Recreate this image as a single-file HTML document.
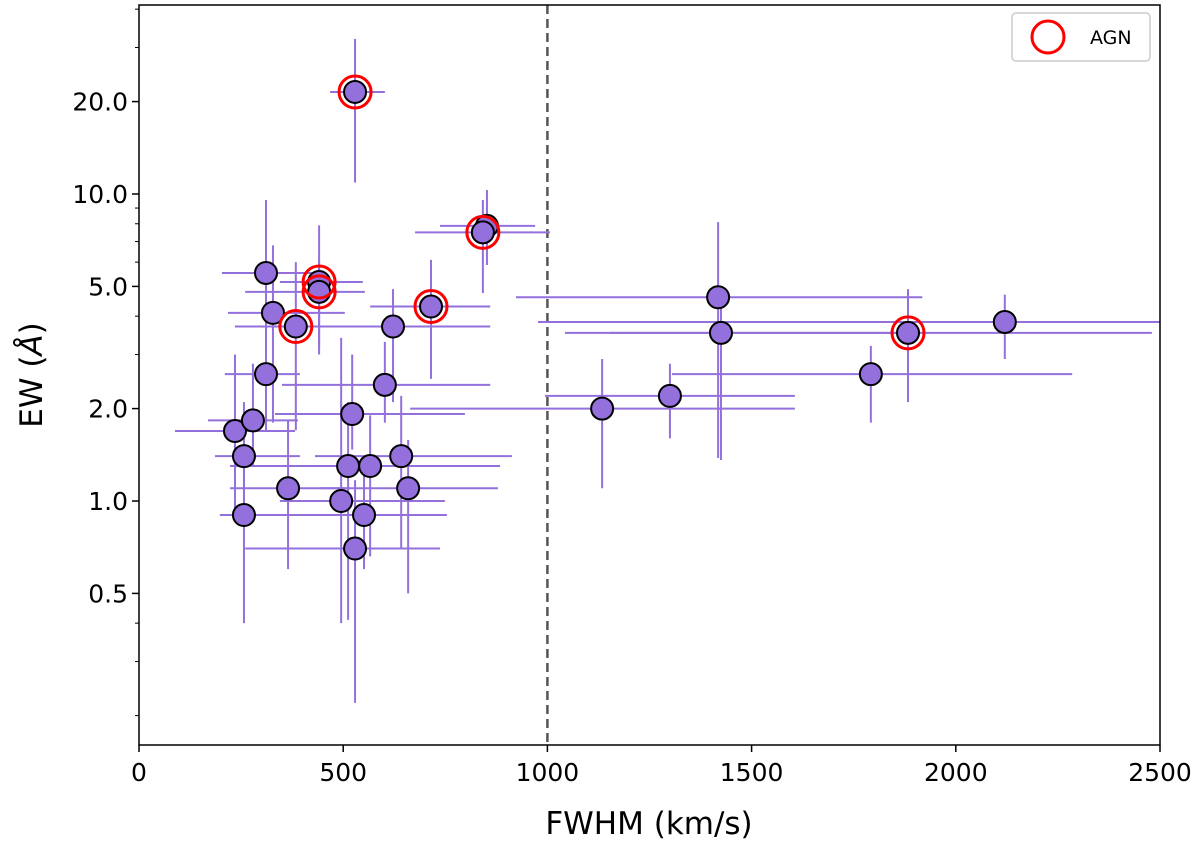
<!DOCTYPE html>
<html><head><meta charset="utf-8"><style>
body{margin:0;background:#fff;font-family:"Liberation Sans","DejaVu Sans",sans-serif}
svg text{font-family:"DejaVu Sans","Liberation Sans",sans-serif}
</style></head><body>
<svg id="chart" width="1200" height="843">
<g id="marks"></g>
<g id="axes"></g>
</svg>
<script>
const fwhm=[529,852,842,441,441,311,328,384,715,622,602,311,522,235,279,257,512,566,642,365,659,495,551,257,529,1418,1425,1883,2120,1792,1300,1134];
const ew=[21.5,7.87,7.5,5.17,4.8,5.53,4.1,3.7,4.3,3.7,2.39,2.59,1.92,1.69,1.83,1.4,1.3,1.3,1.4,1.1,1.1,1.0,0.9,0.9,0.7,4.61,3.53,3.53,3.83,2.59,2.2,2.0];
const fwhmLo=[468,737,676,345,260,203,218,235,566,468,350,210,333,88,169,186,223,394,431,223,443,345,357,198,260,923,1153,1043,977,1305,994,664];
const fwhmHi=[602,970,1006,548,553,424,504,620,860,860,860,394,798,382,389,394,810,884,913,517,879,749,754,382,737,1918,1912,2480,2500,2285,1606,1606];
const ewLo=[10.9,5.87,4.76,3.2,3.0,3.2,1.8,1.7,2.5,2.1,1.8,1.7,1.47,0.87,1.3,0.9,0.41,0.66,0.7,0.6,0.5,0.4,0.6,0.4,0.22,1.38,1.36,2.1,2.9,1.8,1.6,1.1];
const ewHi=[32,10.3,9.56,7.9,6.0,9.56,6.8,6.0,6.1,4.9,3.3,4.5,3.0,3.0,2.8,2.1,2.1,1.9,2.2,1.83,1.58,3.4,1.36,1.83,1.17,8.1,4.5,4.9,4.7,3.2,2.8,2.9];
const agn=[1,0,1,1,1,0,0,1,1,0,0,0,0,0,0,0,0,0,0,0,0,0,0,0,0,0,0,1,0,0,0,0];
const xTicks=[0,500,1000,1500,2000,2500];
const yTicks=[0.5,1.0,2.0,5.0,10.0,20.0];
const L=139,R=1160,T=5,B=745;
const X=v=>L+(v/2500)*(R-L);
const Y=v=>194-307*Math.log10(v/10);
const NS="http://www.w3.org/2000/svg";
function mk(p,tag,a){const e=document.createElementNS(NS,tag);for(const k in a)e.setAttribute(k,a[k]);p.appendChild(e);return e;}
const marks=document.getElementById('marks'),axes=document.getElementById('axes');
const vl=mk(marks,'line',{x1:X(1000),x2:X(1000),y1:T,y2:B,stroke:'#555','stroke-width':2.5,'stroke-dasharray':'9,5'});


for(let i=0;i<fwhm.length;i++){
 const h=mk(marks,'line',{x1:X(fwhmLo[i]),x2:X(fwhmHi[i]),y1:Y(ew[i]),y2:Y(ew[i]),stroke:'#9370DB','stroke-width':2});
 
 
 const v=mk(marks,'line',{x1:X(fwhm[i]),x2:X(fwhm[i]),y1:Y(ewLo[i]),y2:Y(ewHi[i]),stroke:'#9370DB','stroke-width':2});
 
 
}
for(let i=0;i<fwhm.length;i++){
 const c=mk(marks,'circle',{cx:X(fwhm[i]),cy:Y(ew[i]),r:11,fill:'#9370DB',stroke:'#000','stroke-width':2});
 
 
}
for(let i=0;i<fwhm.length;i++){ if(!agn[i])continue;
 const c=mk(marks,'circle',{cx:X(fwhm[i]),cy:Y(ew[i]),r:16,fill:'none',stroke:'#f00','stroke-width':3});
 
 
}
const fr=mk(axes,'rect',{x:L,y:T,width:R-L,height:B-T,fill:'none',stroke:'#000','stroke-width':1.5});


xTicks.forEach(t=>{
 mk(axes,'line',{x1:X(t),x2:X(t),y1:B,y2:B+7,stroke:'#000','stroke-width':1.5});
 const tx=mk(axes,'text',{x:X(t),y:B+36,'text-anchor':'middle','font-size':25});tx.textContent=t;
 
 
});
yTicks.forEach(t=>{
 mk(axes,'line',{x1:L-7,x2:L,y1:Y(t),y2:Y(t),stroke:'#000','stroke-width':1.5});
 const tx=mk(axes,'text',{x:L-11,y:Y(t)+9,'text-anchor':'end','font-size':25});tx.textContent=t.toFixed(1);
 
 
});
[0.2,0.3,0.4,3,4,6,7,8,9,30,40].forEach(t=>{mk(axes,'line',{x1:L-4,x2:L,y1:Y(t),y2:Y(t),stroke:'#000','stroke-width':1});});
</script>
<svg style="position:absolute;left:0;top:0" width="1200" height="843">
<text x="649" y="834" text-anchor="middle" font-size="31">FWHM (km/s)</text>
<text transform="translate(42,375) rotate(-90)" text-anchor="middle" font-size="31">EW (<tspan font-style="italic">Å</tspan>)</text>
<g>
<rect x="1012" y="13" width="138" height="48" rx="4" fill="#fff" stroke="#ccc" stroke-width="1.5"/>
<circle cx="1048" cy="37" r="16" fill="none" stroke="#f00" stroke-width="3"/>
<text x="1090" y="44" font-size="19">AGN</text>
</g>
</svg>
</body></html>
